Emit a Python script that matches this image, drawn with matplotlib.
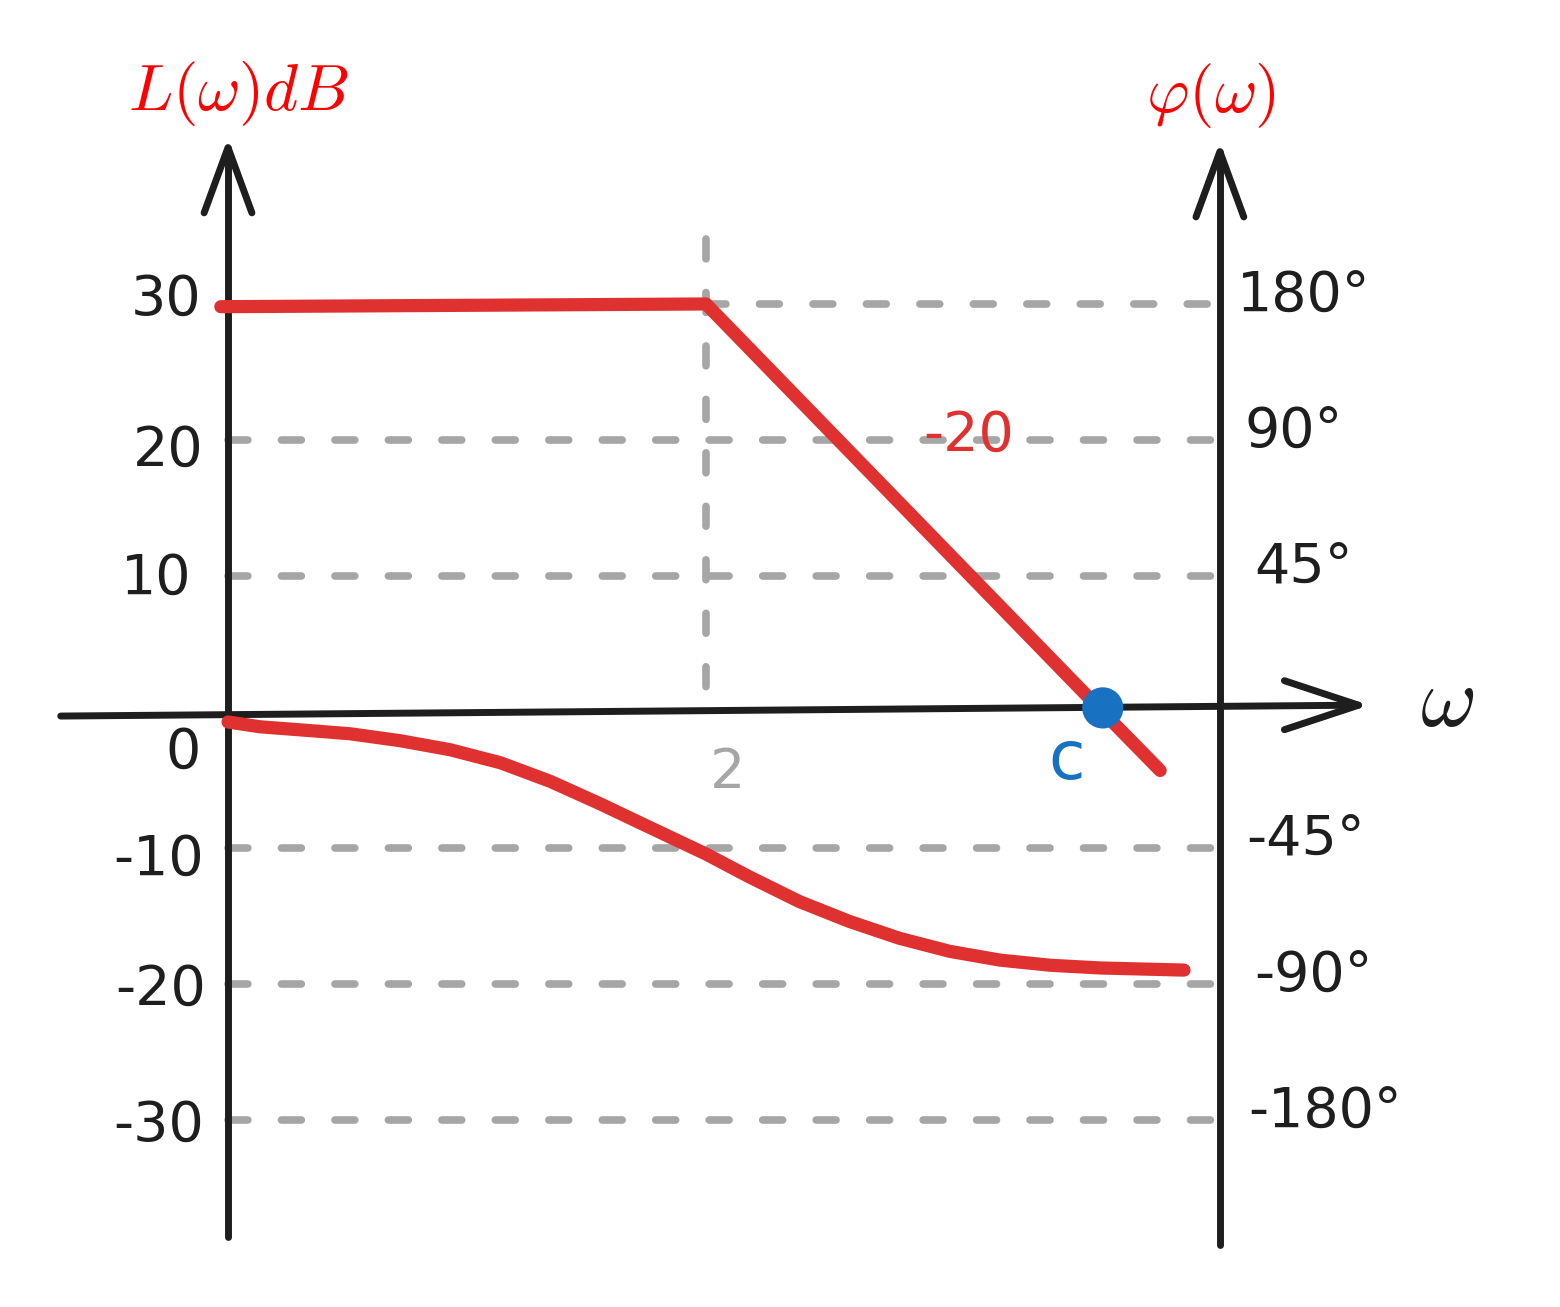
import numpy as np
import matplotlib
matplotlib.use("Agg")
import matplotlib.pyplot as plt

plt.rcParams['mathtext.fontset'] = 'cm'

# ---- data ----
db_ticks = [30, 20, 10, 0, -10, -20, -30]
db_labels = ["30", "20", "10", "0", "-10", "-20", "-30"]
phase_ticks = [180, 90, 45, -45, -90, -180]
phase_labels = ["180°", "90°", "45°", "-45°", "-90°", "-180°"]
# phase value -> vertical position on the dB axis
phase_map_deg = [-180, -90, -45, 0, 45, 90, 180]
phase_map_pos = [-30, -20, -10, 0, 10, 20, 30]

omega_break = 2.0
omega_c = 3.66
mag_omega = [-0.03, 2.0, 3.66, 3.9]
mag_db = [29.8, 30.0, 0.0, -4.3]

phase_omega = [0.0, 0.134, 0.30, 0.51, 0.72, 0.93, 1.14, 1.35, 1.56, 1.77,
               2.0, 2.18, 2.39, 2.60, 2.81, 3.02, 3.23, 3.44, 3.65, 4.0]
phase_deg = [-3.3, -4.9, -5.9, -7.2, -9.5, -12.5, -16.8, -23.0, -30.5, -38.4,
             -47.0, -54.5, -62.7, -69.3, -74.9, -79.2, -82.1, -83.8, -84.7, -85.4]

omega_right_axis = 4.15


def ph2pos(p):
    return np.interp(p, phase_map_deg, phase_map_pos)


W, H = 1560, 1307
fig = plt.figure(figsize=(W / 100, H / 100), dpi=100)
ax = fig.add_axes([0, 0, 1, 1])
ax.set_xlim(-0.954, 5.573)
ax.set_ylim(-43.75, 52.35)
ax.axis('off')

grey = '#a6a6a6'
black = '#1e1e1e'
red = '#e03131'
blue = '#1971c2'
dash = (2.6, 4.4)

# dashed grid lines
for v in [20, 10, -10, -20, -30]:
    ax.plot([0.0, omega_right_axis], [v, v], color=grey, lw=5.5,
            dashes=dash, dash_capstyle='round', zorder=1)
ax.plot([omega_break, omega_right_axis], [30, 30], color=grey, lw=5.5,
        dashes=dash, dash_capstyle='round', zorder=1)
ax.plot([omega_break, omega_break], [34.8, 0.7], color=grey, lw=5.5,
        dashes=dash, dash_capstyle='round', zorder=1)

# axes lines
ax.plot([0.0, 0.0], [-38.6, 41.5], color=black, lw=5, solid_capstyle='round', zorder=3)
ax.plot([-0.1, 0.0, 0.1], [36.7, 41.5, 36.7], color=black, lw=5,
        solid_capstyle='round', solid_joinstyle='round', zorder=3)
ax.plot([omega_right_axis, omega_right_axis], [-39.2, 41.2], color=black, lw=5,
        solid_capstyle='round', zorder=3)
ax.plot([omega_right_axis - 0.1, omega_right_axis, omega_right_axis + 0.1],
        [36.4, 41.2, 36.4], color=black, lw=5, solid_capstyle='round',
        solid_joinstyle='round', zorder=3)
ax.plot([-0.70, 4.73], [-0.3, 0.5], color=black, lw=5, solid_capstyle='round', zorder=3)
ax.plot([4.42, 4.73, 4.42], [2.3, 0.5, -1.3], color=black, lw=5,
        solid_capstyle='round', solid_joinstyle='round', zorder=3)

# magnitude asymptote
ax.plot(mag_omega, mag_db, color=red, lw=9.5, solid_capstyle='round',
        solid_joinstyle='round', zorder=4)
# phase curve
ax.plot(phase_omega, ph2pos(np.array(phase_deg)), color=red, lw=9.5,
        solid_capstyle='round', solid_joinstyle='round', zorder=4)
# crossover point
ax.scatter([omega_c], [0.3], s=880, color=blue, zorder=5, edgecolors='none')

# tick labels
fs = 40
db_label_x = [-0.26, -0.25, -0.30, -0.19, -0.29, -0.28, -0.29]
db_label_dy = [0.3, -0.8, -0.2, -3.0, -0.9, -0.4, -0.4]
for v, lab, xx, dy in zip(db_ticks, db_labels, db_label_x, db_label_dy):
    ax.text(xx, v + dy, lab, fontsize=fs, color=black, ha='center', va='center',
            family='DejaVu Sans')
ph_label_x = [4.50, 4.46, 4.50, 4.51, 4.54, 4.59]
for p, lab, xx in zip(phase_ticks, phase_labels, ph_label_x):
    ax.text(xx, ph2pos(p) + 0.6, lab, fontsize=fs, color=black, ha='center',
            va='center', family='DejaVu Sans')

ax.text(omega_break + 0.09, -4.5, "2", fontsize=fs, color=grey, ha='center',
        va='center', family='DejaVu Sans')
ax.text(omega_c - 0.15, -3.5, "c", fontsize=fs + 8, color=blue, ha='center',
        va='center', family='DejaVu Sans')
ax.text(3.1, 20.3, "-20", fontsize=fs, color=red, ha='center', va='center',
        family='DejaVu Sans')
ax.text(5.1, 0.7, r"$\omega$", fontsize=62, color=black, ha='center', va='center')
ax.text(0.045, 45.5, r"$L(\omega)dB$", fontsize=47, color='#ff0000', ha='center',
        va='center')
ax.text(4.11, 45.3, r"$\varphi(\omega)$", fontsize=47, color='#ff0000', ha='center',
        va='center')

fig.savefig("out.png", dpi=100)
